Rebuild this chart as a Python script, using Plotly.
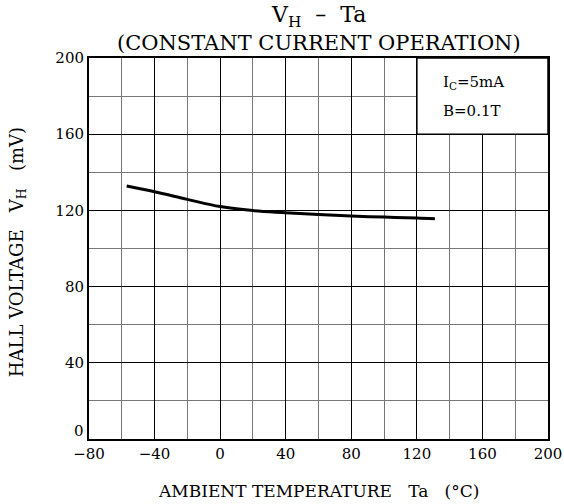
import plotly.graph_objects as go

# Data
temp = [-57, -40, -20, 0, 20, 40, 60, 80, 100, 120, 131]
vh = [132.8, 129.8, 125.8, 122.0, 119.9, 118.8, 117.8, 117.0, 116.5, 116.0, 115.6]

x_ticks = [-80, -40, 0, 40, 80, 120, 160, 200]
y_ticks = [40, 80, 120, 160, 200]

FONT = "DejaVu Serif"
NB = "\u00a0"

fig = go.Figure()
fig.add_trace(go.Scatter(x=temp, y=vh, mode="lines", line=dict(color="black", width=3, shape="spline"),
                         showlegend=False, hoverinfo="skip"))

axis_common = dict(
    showline=True, linecolor="black", linewidth=2, mirror=True,
    showgrid=True, gridcolor="black", gridwidth=1,
    ticks="", zeroline=False, automargin=False,
    tickfont=dict(family=FONT, size=15, color="black"),
)

fig.update_xaxes(range=[-80, 200], tickvals=x_ticks,
                 ticktext=[("\u2212" + str(-v)) if v < 0 else str(v) for v in x_ticks],
                 minor=dict(dtick=20, tick0=-80, showgrid=True, gridcolor="#777777", gridwidth=1),
                 **axis_common)
fig.update_yaxes(range=[0, 200], tickvals=y_ticks,
                 minor=dict(dtick=20, tick0=0, showgrid=True, gridcolor="#777777", gridwidth=1),
                 **axis_common)

# "0" label of the y axis, raised above the corner
fig.add_annotation(x=0, y=0, xref="paper", yref="y", text="0", showarrow=False, xanchor="right",
                   xshift=-3, yshift=8, font=dict(family=FONT, size=15, color="black"))

# Axis titles
fig.add_annotation(x=0.5, y=-0.137, xref="paper", yref="paper",
                   text="AMBIENT TEMPERATURE" + NB * 3 + "Ta" + NB * 3 + "(°C)", showarrow=False,
                   yanchor="middle", font=dict(family=FONT, size=17, color="black"))
fig.add_annotation(x=-0.155, y=0.49, xref="paper", yref="paper", textangle=-90,
                   text="HALL VOLTAGE" + NB * 3 + "V<sub>H</sub>" + NB * 3 + "(mV)", showarrow=False,
                   xanchor="center", yanchor="middle", font=dict(family=FONT, size=18, color="black"))

# Condition box
fig.add_shape(type="rect", x0=120, x1=200, y0=160, y1=200, xref="x", yref="y",
              fillcolor="white", line=dict(color="black", width=1.5), layer="above")
fig.add_annotation(x=135, y=187.4, xref="x", yref="y", text="I<sub>C</sub>=5mA", showarrow=False,
                   xanchor="left", font=dict(family=FONT, size=15, color="black"))
fig.add_annotation(x=135, y=172, xref="x", yref="y", text="B=0.1T", showarrow=False,
                   xanchor="left", font=dict(family=FONT, size=15, color="black"))

# Title
fig.add_annotation(x=0.5, y=1.11, xref="paper", yref="paper", text="V<sub>H</sub>" + NB * 2 + "\u2013" + NB * 2 + "Ta",
                   showarrow=False, yanchor="middle", font=dict(family=FONT, size=22, color="black"))
fig.add_annotation(x=0.5, y=1.039, xref="paper", yref="paper", text="(CONSTANT CURRENT OPERATION)", showarrow=False,
                   yanchor="middle", font=dict(family=FONT, size=21, color="black"))

fig.update_layout(width=564, height=504, margin=dict(l=89, r=16, t=58, b=65),
                  plot_bgcolor="white", paper_bgcolor="white")

fig.write_html("out.html", config={"displayModeBar": False},
               post_script="document.body.style.margin='0';")
